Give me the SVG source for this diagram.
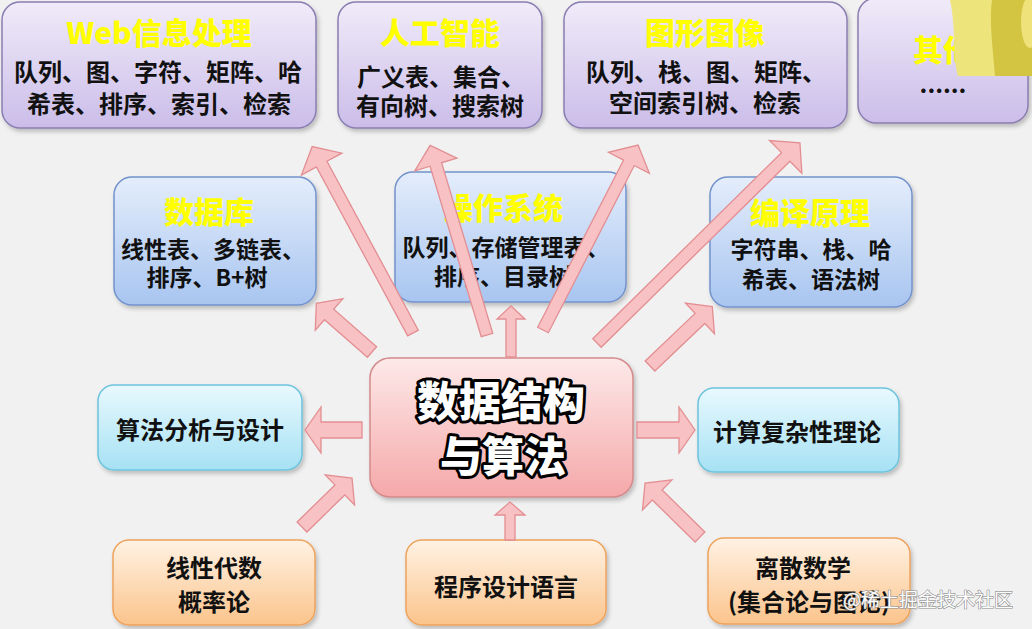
<svg xmlns="http://www.w3.org/2000/svg" width="1032" height="629" viewBox="0 0 1032 629">
<defs>
<linearGradient id="gPurple" x1="0" y1="0" x2="0" y2="1"><stop offset="0" stop-color="#f0ebf9"/><stop offset="1" stop-color="#cbbde9"/></linearGradient>
<linearGradient id="gBlue" x1="0" y1="0" x2="0" y2="1"><stop offset="0" stop-color="#e4edfb"/><stop offset="1" stop-color="#a8c5f0"/></linearGradient>
<linearGradient id="gCyan" x1="0" y1="0" x2="0" y2="1"><stop offset="0" stop-color="#e8f9fe"/><stop offset="1" stop-color="#a6e1f4"/></linearGradient>
<linearGradient id="gPink" x1="0" y1="0" x2="0" y2="1"><stop offset="0" stop-color="#fde9e9"/><stop offset="1" stop-color="#f5a8a9"/></linearGradient>
<linearGradient id="gOrange" x1="0" y1="0" x2="0" y2="1"><stop offset="0" stop-color="#fff2e4"/><stop offset="1" stop-color="#fbc48c"/></linearGradient>
<filter id="sh" x="-10%" y="-10%" width="125%" height="130%"><feDropShadow dx="2" dy="3" stdDeviation="2" flood-color="#000" flood-opacity="0.22"/></filter>
<style>
.purple{fill:url(#gPurple);stroke:#8a7db0;stroke-width:1.5;filter:url(#sh)}
.blue{fill:url(#gBlue);stroke:#7393cc;stroke-width:1.5;filter:url(#sh)}
.cyan{fill:url(#gCyan);stroke:#6cc3dd;stroke-width:1.5;filter:url(#sh)}
.pink{fill:url(#gPink);stroke:#d48a8c;stroke-width:1.5;filter:url(#sh)}
.orange{fill:url(#gOrange);stroke:#eea35c;stroke-width:1.5;filter:url(#sh)}
text{font-family:"Noto Sans CJK SC","Noto Sans",sans-serif;text-anchor:middle}
.t{font-size:30px;font-weight:900;fill:#ffff00}
.l24{font-size:24px;font-weight:700;fill:#111}
.l23{font-size:23px;font-weight:700;fill:#111}
.big{font-size:42px;font-weight:900;fill:#fff;stroke:#000;stroke-width:6;stroke-linejoin:round;paint-order:stroke}
.arr{fill:#f8c2c4;stroke:#e38e92;stroke-width:1.3;stroke-linejoin:miter}
.wm{font-size:19px;font-weight:400;fill:#fff;stroke:#8a8a8a;stroke-width:1.2;paint-order:stroke;text-anchor:start}
</style>
</defs>
<rect x="0" y="0" width="1032" height="629" fill="#f1f1f1"/>

<g id="web">
<rect class="purple" x="2" y="2" width="314" height="126" rx="18"/>
<text class="t" x="159" y="44">Web信息处理</text>
<text class="l24" x="158" y="81">队列、图、字符、矩阵、哈</text>
<text class="l24" x="159" y="113">希表、排序、索引、检索</text>
</g>
<g id="ai">
<rect class="purple" x="338" y="2" width="204" height="126" rx="18"/>
<text class="t" x="440" y="44">人工智能</text>
<text class="l24" x="441" y="86">广义表、集合、</text>
<text class="l24" x="440" y="115">有向树、搜索树</text>
</g>
<g id="graphics">
<rect class="purple" x="564" y="2" width="283" height="126" rx="18"/>
<text class="t" x="705" y="44">图形图像</text>
<text class="l24" x="706" y="81">队列、栈、图、矩阵、</text>
<text class="l24" x="705" y="112">空间索引树、检索</text>
</g>
<g id="other">
<rect class="purple" x="858" y="-2" width="170" height="125" rx="18"/>
<text class="t" x="943" y="61">其他</text>
<text class="l24" x="943" y="93">......</text>
</g>

<g id="db">
<rect class="blue" x="114" y="177" width="202" height="128" rx="18"/>
<text class="t" x="209" y="223">数据库</text>
<text class="l23" x="213" y="258">线性表、多链表、</text>
<text class="l23" x="207" y="286">排序、B+树</text>
</g>
<g id="os">
<rect class="blue" x="395" y="172" width="231" height="130" rx="18"/>
<text class="t" x="503" y="219">操作系统</text>
<text class="l23" x="506" y="256">队列、存储管理表、</text>
<text class="l23" x="503" y="285">排序、目录树</text>
</g>
<g id="compiler">
<rect class="blue" x="710" y="177" width="202" height="130" rx="18"/>
<text class="t" x="810" y="224">编译原理</text>
<text class="l23" x="811" y="258">字符串、栈、哈</text>
<text class="l23" x="811" y="288">希表、语法树</text>
</g>

<g id="algo">
<rect class="cyan" x="98" y="385" width="204" height="85" rx="16"/>
<text class="l24" x="200" y="439">算法分析与设计</text>
</g>
<g id="center">
<rect class="pink" x="370" y="358" width="263" height="139" rx="20"/>
<text class="big" x="501" y="417">数据结构</text>
<text class="big" x="503" y="472">与算法</text>
</g>
<g id="complexity">
<rect class="cyan" x="698" y="388" width="201" height="84" rx="16"/>
<text class="l24" x="797" y="441">计算复杂性理论</text>
</g>

<g id="linalg">
<rect class="orange" x="113" y="540" width="202" height="85" rx="16"/>
<text class="l24" x="214" y="577">线性代数</text>
<text class="l24" x="214" y="611">概率论</text>
</g>
<g id="prog">
<rect class="orange" x="406" y="540" width="200" height="85" rx="16"/>
<text class="l24" x="506" y="596">程序设计语言</text>
</g>
<g id="discrete">
<rect class="orange" x="708" y="538" width="202" height="86" rx="16"/>
<text class="l24" x="803" y="577">离散数学</text>
<text class="l24" x="809" y="611">(集合论与图论)</text>
</g>

<g id="connectors">
<polygon class="arr" transform="translate(413,333) rotate(-118.4)" points="0,-6 192,-6 192,-23 212,0 192,23 192,6 0,6"/>
<polygon class="arr" transform="translate(487,335) rotate(-106.7)" points="0,-6 178,-6 178,-22 198,0 178,22 178,6 0,6"/>
<polygon class="arr" transform="translate(543,330) rotate(-62.8)" points="0,-6 188,-6 188,-23 208,0 188,23 188,6 0,6"/>
<polygon class="arr" transform="translate(597,343) rotate(-44.6)" points="0,-6 265,-6 265,-23 285,0 265,23 265,6 0,6"/>
<polygon class="arr" transform="translate(372,352) rotate(-138.8)" points="0,-7 57,-7 57,-21 74,0 57,21 57,7 0,7"/>
<polygon class="arr" transform="translate(650,366) rotate(-43.6)" points="0,-7 69,-7 69,-21 86,0 69,21 69,7 0,7"/>
<polygon class="arr" transform="translate(511,357) rotate(-90)" points="0,-5 38,-5 38,-14 51,0 38,14 38,5 0,5"/>
<polygon class="arr" transform="translate(362,430) rotate(180)" points="0,-8 41,-8 41,-23 57,0 41,23 41,8 0,8"/>
<polygon class="arr" transform="translate(637,430)" points="0,-8 42,-8 42,-23 58,0 42,23 42,8 0,8"/>
<polygon class="arr" transform="translate(302,527) rotate(-44.4)" points="0,-7 53,-7 53,-21 70,0 53,21 53,7 0,7"/>
<polygon class="arr" transform="translate(510,540) rotate(-90)" points="0,-5 25,-5 25,-15 38,0 25,15 25,5 0,5"/>
<polygon class="arr" transform="translate(700,537) rotate(-135.5)" points="0,-7 60,-7 60,-21 77,0 60,21 60,7 0,7"/>
</g>

<path d="M950,0 L1032,0 L1032,76 L958,76 C953,58 956,28 950,0 Z" fill="#eee47c"/>
<path d="M992,0 L1032,0 L1032,76 L995,76 C993,50 989,22 992,0 Z" fill="#d3c441"/>
<ellipse cx="1030" cy="22" rx="9" ry="26" fill="#efe27a"/>

<text class="wm" x="843" y="607">@稀土掘金技术社区</text>
</svg>
